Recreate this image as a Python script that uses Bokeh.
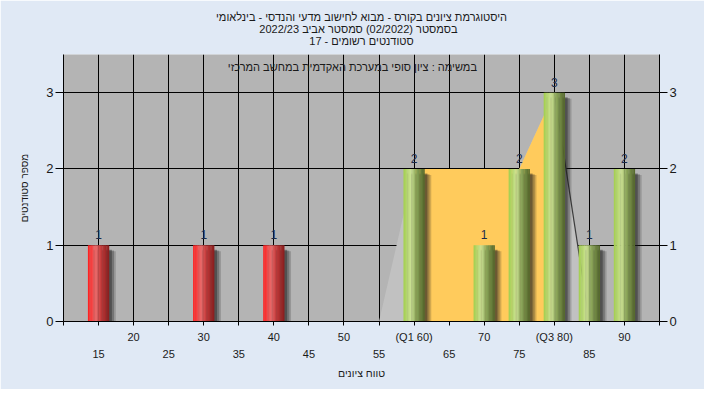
import math
from bokeh.plotting import figure
from bokeh.models import ColumnDataSource, FixedTicker, LinearAxis, Label, Range1d, Title
from bokeh.core.properties import value
from bokeh.embed import file_html
from bokeh.resources import INLINE

# ---------------- data ----------------
grades = [15, 30, 40, 60, 70, 75, 80, 85, 90]
counts = [1, 1, 1, 2, 1, 2, 3, 1, 2]
passing_grade = 55
q1 = 60
q3 = 80
poly_x = [55, 60, 65, 70, 75, 80, 85]
poly_y = [0, 2, 2, 2, 2, 3, 0]
x_ticks_upper = [20, 30, 40, 50, 60, 70, 80, 90]
x_ticks_lower = [15, 25, 35, 45, 55, 65, 75, 85]
x_ticks_all = [10, 15, 20, 25, 30, 35, 40, 45, 50, 55, 60, 65, 70, 75, 80, 85, 90, 95]
y_ticks = [0, 1, 2, 3]
title_lines = [
    "היסטוגרמת ציונים בקורס - מבוא לחישוב מדעי והנדסי - בינלאומי",
    "בסמסטר  (02/2022)  סמסטר אביב 2022/23",
    "סטודנטים רשומים - 17",
]
subtitle = "במשימה : ציון סופי במערכת האקדמית במחשב המרכזי"
x_title = "טווח ציונים"
y_title = "מספר סטודנטים"

FONT = "Liberation Sans"
TXT = "#1a1a1a"

red_stops = [(0.0, (255, 28, 28)), (0.38, (232, 108, 108)), (0.62, (196, 58, 58)), (1.0, (135, 30, 30))]
green_stops = [(0.0, (162, 206, 78)), (0.36, (204, 226, 148)), (0.6, (140, 166, 90)), (1.0, (82, 102, 42))]


def interp(stops, t):
    for (t0, c0), (t1, c1) in zip(stops[:-1], stops[1:]):
        if t0 <= t <= t1:
            f = (t - t0) / (t1 - t0)
            r, g, b = (int(round(a + (bb - a) * f)) for a, bb in zip(c0, c1))
            return "#%02x%02x%02x" % (r, g, b)
    return "#%02x%02x%02x" % stops[-1][1]


p = figure(width=704, height=389, output_backend="svg", toolbar_location=None,
           title=None, x_range=Range1d(10, 95), y_range=Range1d(0, 3.5),
           min_border_left=63, min_border_right=45, min_border_top=54, min_border_bottom=68)
p.background_fill_color = "#b4b4b4"
p.border_fill_color = "#e0e9f5"
p.outline_line_color = None

# multi-line title
title = Title(text="\n".join(title_lines), align="center", offset=-4, standoff=16,
              text_font=FONT, text_font_size="11px", text_font_style="normal",
              text_color=TXT, text_line_height=1.0)
if "text_align" in title.properties():
    title.text_align = "center"
p.add_layout(title, "above")

# grids
p.xgrid.ticker = FixedTicker(ticks=x_ticks_all)
p.ygrid.ticker = FixedTicker(ticks=y_ticks)
for g in (p.xgrid[0], p.ygrid[0]):
    g.grid_line_color = "black"
    g.grid_line_width = 1

# x axes (two label rows)
ax1 = p.xaxis[0]
ax1.ticker = FixedTicker(ticks=x_ticks_all)
overrides = {}
for t in x_ticks_all:
    if t in x_ticks_upper:
        if t == q1:
            overrides[t] = "(Q1 %d)" % q1
        elif t == q3:
            overrides[t] = "(Q3 %d)" % q3
        else:
            overrides[t] = str(t)
    else:
        overrides[t] = ""
ax1.major_label_overrides = overrides
ax1.major_tick_in = 0
ax1.major_tick_out = 4
ax1.major_label_standoff = 5
ax1.minor_tick_line_color = None
ax1.axis_line_color = "black"
ax1.major_tick_line_color = "black"
ax1.major_label_text_font = FONT
ax1.major_label_text_font_size = "11px"
ax1.major_label_text_color = TXT

ax2 = LinearAxis(ticker=FixedTicker(ticks=x_ticks_lower))
ax2.axis_line_color = None
ax2.major_tick_line_color = None
ax2.minor_tick_line_color = None
ax2.major_tick_in = 0
ax2.major_tick_out = 0
ax2.major_label_standoff = 4
ax2.major_label_text_font = FONT
ax2.major_label_text_font_size = "11px"
ax2.major_label_text_color = TXT
ax2.axis_label = x_title
ax2.axis_label_standoff = 6
ax2.axis_label_text_font = FONT
ax2.axis_label_text_font_size = "10.5px"
ax2.axis_label_text_font_style = "normal"
ax2.axis_label_text_color = TXT
p.add_layout(ax2, "below")

# y axes
ay = p.yaxis[0]
ay_r = LinearAxis()
p.add_layout(ay_r, "right")
for a in (ay, ay_r):
    a.ticker = FixedTicker(ticks=y_ticks)
    a.major_tick_in = 0
    a.major_tick_out = 8
    a.major_label_standoff = 2
    a.minor_tick_line_color = None
    a.axis_line_color = "black"
    a.major_tick_line_color = "black"
    a.major_label_text_font = FONT
    a.major_label_text_font_size = "13px"
    a.major_label_text_color = TXT
ay.axis_label = y_title
ay.axis_label_standoff = 13
ay.axis_label_text_font = FONT
ay.axis_label_text_font_size = "10px"
ay.axis_label_text_font_style = "normal"
ay.axis_label_text_color = TXT

# frequency polygon areas
p.varea(x=poly_x, y1=[0] * len(poly_x), y2=poly_y, fill_color="#c1c1c1")
iq_x = [x for x in poly_x if q1 <= x <= q3]
iq_y = [y for x, y in zip(poly_x, poly_y) if q1 <= x <= q3]
p.varea(x=iq_x, y1=[0] * len(iq_x), y2=iq_y, fill_color="#ffcb5c")
tail_x = [x for x in poly_x if x >= q3]
tail_y = [y for x, y in zip(poly_x, poly_y) if x >= q3]
p.line(x=tail_x, y=tail_y, line_color="#3c3c3c", line_width=1.2)

# bar shadows
bar_w = 3.0
for dx, dy, al in [(0.95, 0.08, 0.2), (0.7, 0.07, 0.28), (0.4, 0.06, 0.4)]:
    p.vbar(x=[g + dx for g in grades], top=[c - dy for c in counts], bottom=-0.2,
           width=bar_w, fill_color="#1e1e1e", fill_alpha=al, line_color=None)

# cylinder bars as gradient strips
n_strips = 16
rows = {"x": [], "top": [], "color": []}
for g, c in zip(grades, counts):
    stops = red_stops if g < passing_grade else green_stops
    for k in range(n_strips):
        t = (k + 0.5) / n_strips
        rows["x"].append(g - bar_w / 2 + t * bar_w)
        rows["top"].append(c)
        rows["color"].append(interp(stops, t))
p.vbar(x="x", top="top", bottom=0, width=bar_w / n_strips * 1.2, fill_color="color",
       line_color=None, source=ColumnDataSource(rows))

# value labels
p.text(x=grades, y=counts, text=[str(c) for c in counts], text_align="center",
       text_baseline="bottom", y_offset=-6, text_font=value(FONT), text_font_size="12px",
       text_color="#1c2b4a")

p.add_layout(Label(x=51.2, y=3.33, text=subtitle, text_align="center", text_baseline="middle",
                   text_font=FONT, text_font_size="11px", text_color=TXT))

open("out.html", "w").write(file_html(p, INLINE))
